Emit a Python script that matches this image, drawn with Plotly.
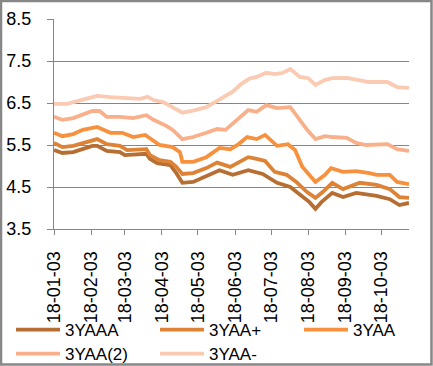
import plotly.graph_objects as go

# ---- data ----
names = ["3YAAA", "3YAA+", "3YAA", "3YAA(2)", "3YAA-"]
colors = ["#B76E33", "#DE8236", "#F8913D", "#F9B08A", "#FBCAB2"]

d_aaa = ["2018-01-03", "2018-01-10", "2018-01-19", "2018-02-04", "2018-02-08", "2018-02-16",
         "2018-02-27", "2018-03-03", "2018-03-21", "2018-03-24", "2018-03-30", "2018-04-10",
         "2018-04-15", "2018-04-20", "2018-04-29", "2018-05-10", "2018-05-19", "2018-05-21",
         "2018-06-01", "2018-06-14", "2018-06-26", "2018-07-08", "2018-07-19", "2018-07-27",
         "2018-08-04", "2018-08-09", "2018-08-14", "2018-08-23", "2018-09-01", "2018-09-12",
         "2018-09-29", "2018-10-10", "2018-10-18", "2018-10-26"]
v_aaa = [5.38, 5.31, 5.33, 5.48, 5.48, 5.36, 5.33, 5.26, 5.29, 5.17, 5.07, 5.02,
         4.83, 4.60, 4.62, 4.76, 4.88, 4.90, 4.79, 4.90, 4.81, 4.60, 4.50, 4.31,
         4.14, 3.98, 4.14, 4.36, 4.26, 4.36, 4.29, 4.21, 4.07, 4.12]

d_aap = ["2018-01-03", "2018-01-10", "2018-01-19", "2018-02-08", "2018-02-16", "2018-02-27",
         "2018-03-05", "2018-03-21", "2018-03-24", "2018-04-01", "2018-04-10", "2018-04-15",
         "2018-04-20", "2018-04-29", "2018-05-10", "2018-05-19", "2018-05-30", "2018-06-05",
         "2018-06-14", "2018-06-21", "2018-06-28", "2018-07-06", "2018-07-16", "2018-07-24",
         "2018-08-02", "2018-08-09", "2018-08-15", "2018-08-23", "2018-09-01", "2018-09-15",
         "2018-09-29", "2018-10-10", "2018-10-18", "2018-10-26"]
v_aap = [5.55, 5.45, 5.48, 5.64, 5.52, 5.48, 5.38, 5.40, 5.26, 5.14, 5.10, 4.98,
         4.81, 4.83, 4.95, 5.08, 4.98, 5.07, 5.21, 5.17, 5.12, 4.86, 4.79, 4.62,
         4.38, 4.24, 4.38, 4.60, 4.45, 4.60, 4.55, 4.45, 4.26, 4.24]

d_aa = ["2018-01-03", "2018-01-10", "2018-01-19", "2018-01-27", "2018-02-08", "2018-02-19",
        "2018-03-01", "2018-03-10", "2018-03-20", "2018-03-26", "2018-04-01", "2018-04-12",
        "2018-04-18", "2018-04-20", "2018-04-29", "2018-05-10", "2018-05-19", "2018-05-21",
        "2018-05-30", "2018-06-05", "2018-06-13", "2018-06-21", "2018-06-28", "2018-07-08",
        "2018-07-17", "2018-07-23", "2018-07-29", "2018-08-09", "2018-08-17", "2018-08-22",
        "2018-09-01", "2018-09-12", "2018-09-23", "2018-09-29", "2018-10-10", "2018-10-16",
        "2018-10-26"]
v_aa = [5.79, 5.71, 5.76, 5.86, 5.93, 5.79, 5.79, 5.69, 5.74, 5.62, 5.50, 5.45,
        5.33, 5.10, 5.10, 5.21, 5.38, 5.43, 5.40, 5.50, 5.69, 5.64, 5.74, 5.48,
        5.52, 5.38, 4.98, 4.62, 4.79, 4.95, 4.86, 4.88, 4.83, 4.79, 4.79, 4.62, 4.57]

d_aa2 = ["2018-01-03", "2018-01-10", "2018-01-19", "2018-02-04", "2018-02-10", "2018-02-16",
         "2018-02-27", "2018-03-10", "2018-03-21", "2018-03-27", "2018-04-07", "2018-04-12",
         "2018-04-20", "2018-04-29", "2018-05-10", "2018-05-19", "2018-05-26", "2018-06-05",
         "2018-06-14", "2018-06-21", "2018-06-29", "2018-07-08", "2018-07-19", "2018-07-24",
         "2018-08-02", "2018-08-09", "2018-08-17", "2018-08-23", "2018-09-04", "2018-09-12",
         "2018-09-20", "2018-10-08", "2018-10-16", "2018-10-26"]
v_aa2 = [6.17, 6.10, 6.14, 6.31, 6.31, 6.17, 6.17, 6.14, 6.21, 6.10, 5.95, 5.86,
         5.64, 5.69, 5.79, 5.88, 5.86, 6.10, 6.33, 6.29, 6.45, 6.38, 6.40, 6.21,
         5.86, 5.64, 5.71, 5.69, 5.67, 5.55, 5.50, 5.52, 5.40, 5.36]

d_aam = ["2018-01-03", "2018-01-14", "2018-01-27", "2018-02-08", "2018-02-19", "2018-03-01",
         "2018-03-16", "2018-03-22", "2018-03-27", "2018-04-04", "2018-04-12", "2018-04-20",
         "2018-04-29", "2018-05-10", "2018-05-19", "2018-05-26", "2018-06-01", "2018-06-08",
         "2018-06-15", "2018-06-21", "2018-06-29", "2018-07-06", "2018-07-13", "2018-07-19",
         "2018-07-27", "2018-08-03", "2018-08-09", "2018-08-17", "2018-08-23", "2018-09-04",
         "2018-09-12", "2018-09-23", "2018-10-08", "2018-10-16", "2018-10-26"]
v_aam = [6.48, 6.48, 6.58, 6.67, 6.64, 6.62, 6.60, 6.65, 6.57, 6.52, 6.40, 6.27,
         6.32, 6.40, 6.55, 6.66, 6.77, 6.95, 7.08, 7.12, 7.22, 7.19, 7.22, 7.31,
         7.12, 7.09, 6.93, 7.05, 7.09, 7.10, 7.05, 7.00, 7.00, 6.88, 6.86]

x_ticks = ["2018-01-03", "2018-02-03", "2018-03-03", "2018-04-03", "2018-05-03",
           "2018-06-03", "2018-07-03", "2018-08-03", "2018-09-03", "2018-10-03"]
x_tick_labels = ["18-01-03", "18-02-03", "18-03-03", "18-04-03", "18-05-03",
                 "18-06-03", "18-07-03", "18-08-03", "18-09-03", "18-10-03"]
y_ticks = [3.5, 4.5, 5.5, 6.5, 7.5, 8.5]
y_tick_labels = ["3.5", "4.5", "5.5", "6.5", "7.5", "8.5"]

series = [(d_aaa, v_aaa), (d_aap, v_aap), (d_aa, v_aa), (d_aa2, v_aa2), (d_aam, v_aam)]

# ---- figure ----
W, H = 433, 366
L, R, T, B = 54, 24, 19, 137
pw, ph = W - L - R, H - T - B
FONT = "Liberation Sans, Arial, sans-serif"

# legend slot of each series: (left px, top px) in the page
slots = [(11, 312), (155, 312), (299, 312), (11, 336), (155, 336)]
legend_keys = ["legend", "legend2", "legend3", "legend4", "legend5"]

fig = go.Figure()
legends = {}
for (d, v), n, c, key, (lx, ly) in zip(series, names, colors, legend_keys, slots):
    fig.add_trace(go.Scatter(x=d, y=v, name=n, mode="lines", legend=key,
                             line=dict(color=c, width=3.8)))
    legends[key] = dict(x=(lx - L) / pw, y=(H - B - ly) / ph,
                        xanchor="left", yanchor="top", itemwidth=44,
                        font=dict(family=FONT, size=17, color="#000000"),
                        bgcolor="rgba(0,0,0,0)")

fig.update_layout(
    width=W, height=H,
    margin=dict(l=L, r=R, t=T, b=B, pad=0, autoexpand=False),
    paper_bgcolor="white", plot_bgcolor="white",
    font=dict(family=FONT, size=18, color="#000000"),
    showlegend=True,
    xaxis=dict(type="date", range=["2018-01-03", "2018-10-26"], automargin=False,
               tickmode="array", tickvals=x_ticks, ticktext=x_tick_labels,
               tickangle=-90, ticks="outside", ticklen=5, tickcolor="#868686",
               showgrid=False, showline=True, linecolor="#868686", linewidth=1,
               zeroline=False, ticklabelstandoff=9, tickfont=dict(size=18)),
    yaxis=dict(range=[3.5, 8.5], tickmode="array", tickvals=y_ticks, ticktext=y_tick_labels,
               automargin=False,
               ticks="outside", ticklen=6, tickcolor="#868686",
               showgrid=True, gridcolor="#868686", gridwidth=1,
               showline=True, linecolor="#868686", linewidth=1,
               zeroline=False, ticklabelstandoff=12, tickfont=dict(size=18)),
    shapes=[dict(type="rect", xref="paper", yref="paper",
                 x0=(1 - L) / pw, x1=(W - 1.5 - L) / pw,
                 y0=-(B - 1.5) / ph, y1=1 + (T - 1) / ph,
                 line=dict(color="#878787", width=2.5), fillcolor="rgba(0,0,0,0)",
                 layer="above")],
    **legends,
)

fig.write_html("out.html", config={"displayModeBar": False},
               post_script="document.body.style.margin='0';document.body.style.overflow='hidden';")
